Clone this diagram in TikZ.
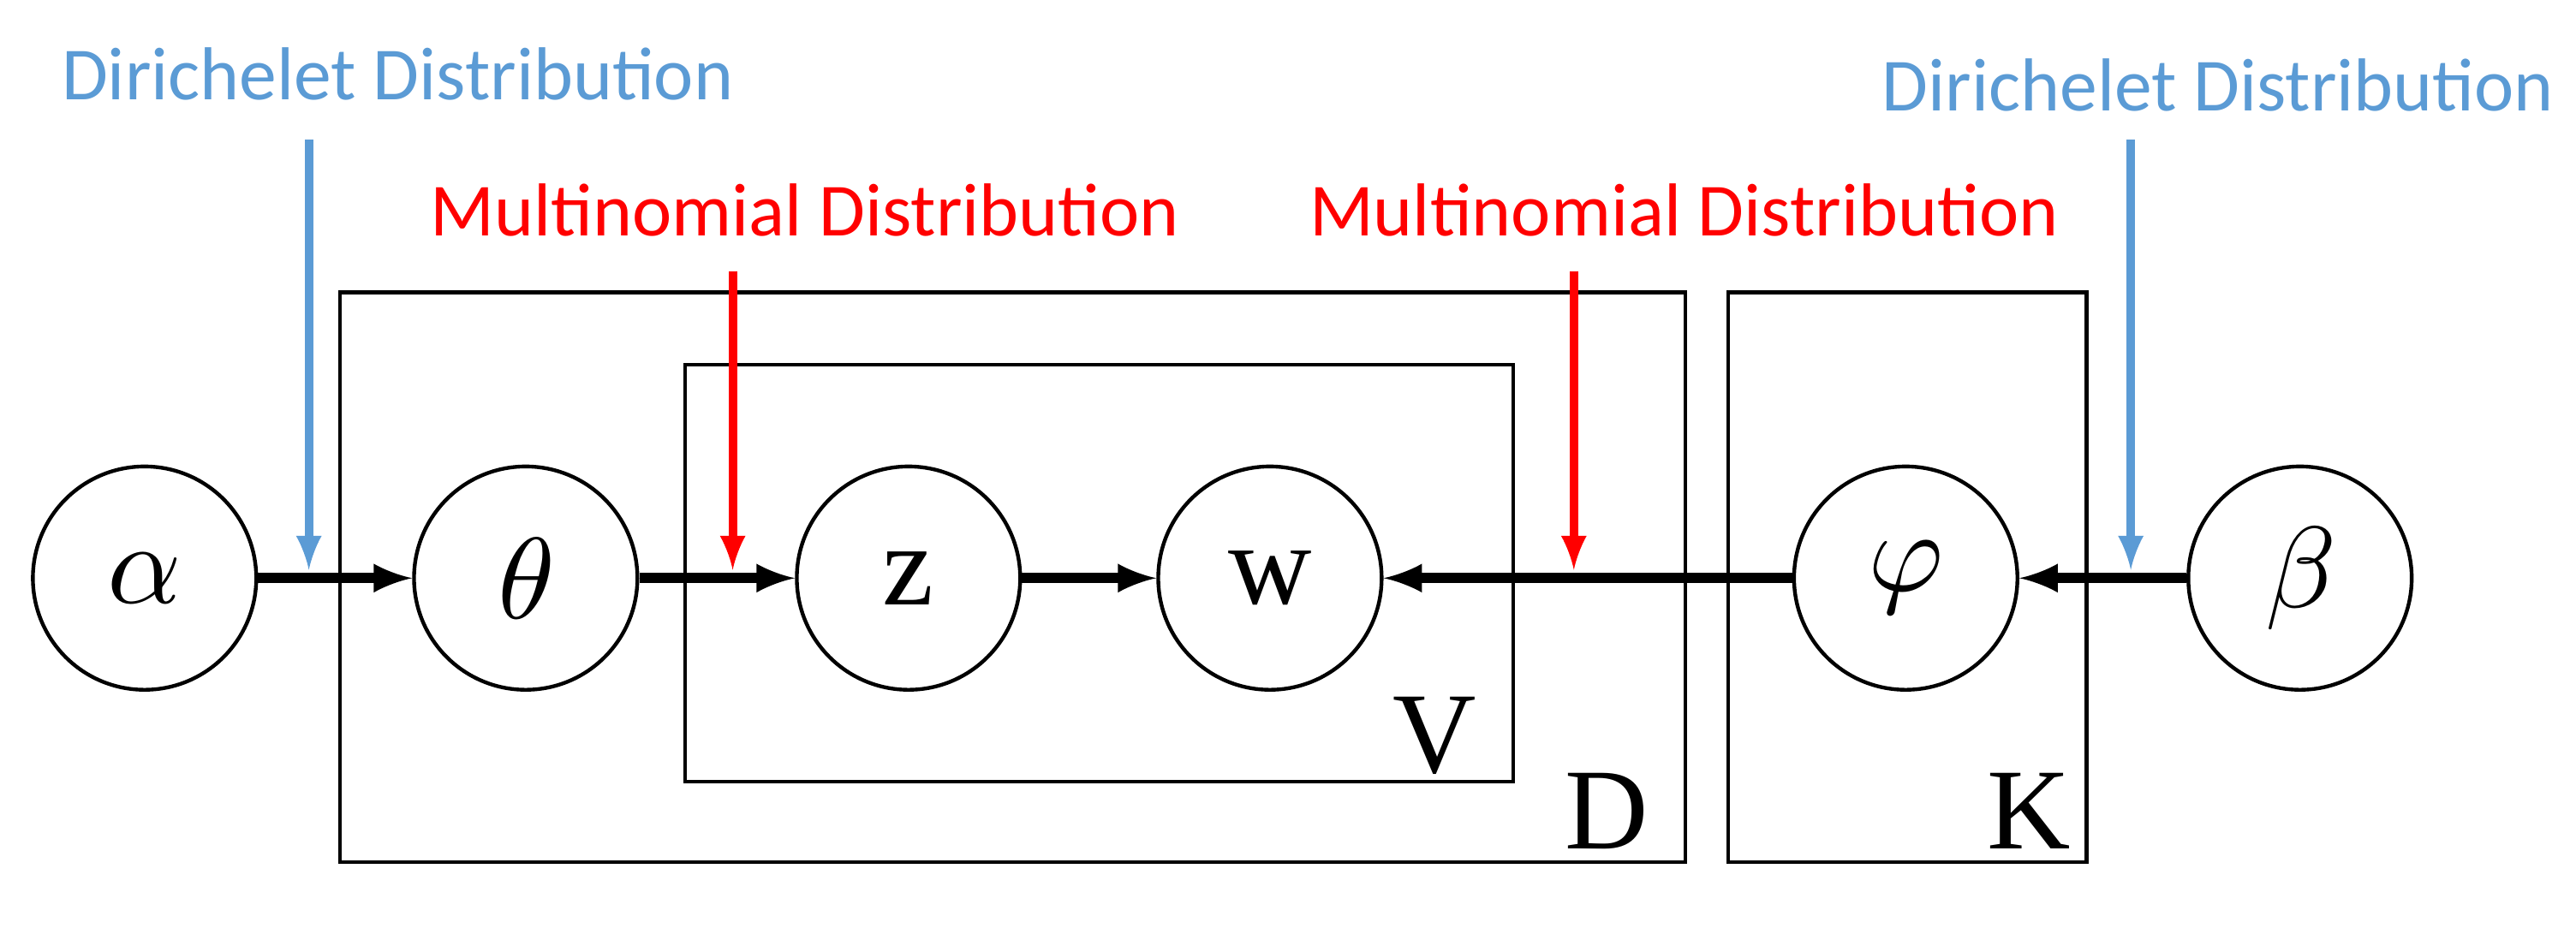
\documentclass[tikz,border=0pt]{standalone}
\usepackage{amssymb,amsmath}
\usepackage{unicode-math}
\setmainfont{Carlito}
\setmathfont{Latin Modern Math}
\newfontfamily\serifletters{Liberation Serif}
\usetikzlibrary{calc}
\definecolor{colorDir}{RGB}{91,155,213}
\definecolor{colorMul}{RGB}{255,0,0}
\tikzset{
  var/.style={circle, draw, line width=1.3pt, minimum size=2.72cm, inner sep=0pt,
              font=\serifletters\fontsize{40}{42}\selectfont},
  plate/.style={draw, line width=1.3pt},
  link/.style={-latex, line width=3.5pt},
  hint/.style={-latex, line width=3pt},
  platelabel/.style={font=\serifletters\fontsize{40}{42}\selectfont},
  hinttext/.style={font=\fontsize{26}{28}\selectfont}
}
\begin{document}
\begin{tikzpicture}[x=0.02cm,y=-0.02cm]
  % Fixed frame
  \useasboundingbox (0,0) rectangle (1568,576);

  % Plates
  \draw[plate] (207,178) rectangle (1026,525);
  \draw[plate] (417,222) rectangle (921,476);
  \draw[plate] (1052,178) rectangle (1270,525);
  \node[platelabel] (labV) at (873,448) {V};
  \node[platelabel] (labD) at (978,494) {D};
  \node[platelabel] (labK) at (1235,494) {K};

  % Variables
  \node[var] (alpha) at (88,352) {$\alpha$};
  \node[var] (theta) at (320,352) {$\theta$};
  \node[var] (z) at (553,352) {z};
  \node[var] (w) at (773,352) {w};
  \node[var] (phi) at (1160,352) {$\varphi$};
  \node[var] (beta) at (1400,352) {$\beta$};

  \draw[link] (alpha) -- (theta);
  \draw[link] (theta) -- (z);
  \draw[link] (z) -- (w);
  \draw[link] (phi) -- (w);
  \draw[link] (beta) -- (phi);

  % Distribution hints
  \node[hinttext, text=colorDir] (dir1) at (242,45) {Dirichelet Distribution};
  \node[hinttext, text=colorDir] (dir2) at (1350,52) {Dirichelet Distribution};
  \node[hinttext, text=colorMul] (mul1) at (490,128) {Multinomial Distribution};
  \node[hinttext, text=colorMul] (mul2) at (1025,128) {Multinomial Distribution};
  \coordinate (d1) at (188,347);
  \coordinate (d2) at (1297,347);
  \coordinate (m1) at (446,347);
  \coordinate (m2) at (958,347);
  \draw[hint, colorDir] (188,85) -- (d1);
  \draw[hint, colorDir] (1297,85) -- (d2);
  \draw[hint, colorMul] (446,165) -- (m1);
  \draw[hint, colorMul] (958,165) -- (m2);
\end{tikzpicture}
\end{document}
